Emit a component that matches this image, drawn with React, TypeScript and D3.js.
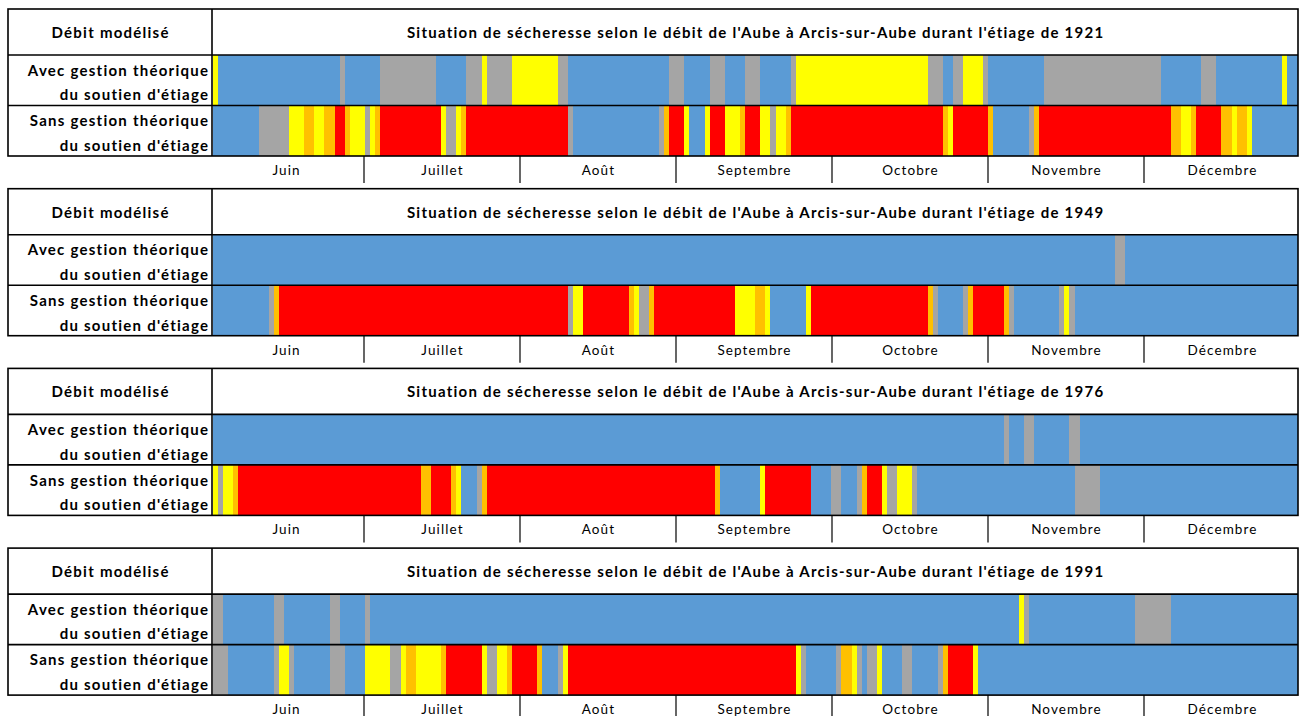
import React from "react";
import * as d3 from "d3";

const WIDTH = 1301;
const HEIGHT = 716;
const N_DAYS = 214; // 1 June -> 31 December

const years = ["1921", "1949", "1976", "1991"];
const months = ["Juin", "Juillet", "Août", "Septembre", "Octobre", "Novembre", "Décembre"];
const levels = ["N", "V", "A", "R", "C"]; // normal, vigilance, alerte, alerte renforcée, crise
const levelColors = ["#5B9BD5", "#A5A5A5", "#FFFF00", "#FFC000", "#FF0000"];
const rowLabels = [
  ["Avec gestion théorique", "du soutien d'étiage"],
  ["Sans gestion théorique", "du soutien d'étiage"],
];
const headerLeft = "Débit modélisé";
const titlePrefix = "Situation de sécheresse selon le débit de l'Aube à Arcis-sur-Aube durant l'étiage de ";

type Run = [string, number]; // [level, number of days]

const avec1921: Run[] = [
  ["A", 1], ["N", 24], ["V", 1], ["N", 7], ["V", 11], ["N", 6], ["V", 3], ["A", 1], ["V", 5], ["A", 9],
  ["V", 2], ["N", 20], ["V", 3], ["N", 5], ["V", 3], ["N", 4], ["V", 3], ["N", 6], ["V", 1], ["A", 26],
  ["V", 3], ["N", 2], ["V", 2], ["A", 4], ["V", 1], ["N", 11], ["V", 23], ["N", 8], ["V", 3], ["N", 13],
  ["A", 1], ["N", 2],
];
const sans1921: Run[] = [
  ["N", 9], ["V", 6], ["A", 3], ["R", 2], ["A", 2], ["R", 2], ["C", 2], ["R", 1], ["A", 3], ["V", 1],
  ["A", 1], ["R", 1], ["C", 12], ["A", 1], ["V", 2], ["A", 1], ["R", 1], ["C", 20], ["V", 1], ["N", 17],
  ["V", 1], ["R", 1], ["C", 3], ["A", 1], ["N", 3], ["A", 1], ["C", 3], ["A", 3], ["R", 1], ["C", 3],
  ["A", 2], ["V", 1], ["A", 2], ["R", 1], ["C", 30], ["R", 1], ["A", 1], ["C", 7], ["R", 1], ["N", 7],
  ["V", 1], ["R", 1], ["C", 26], ["R", 2], ["A", 2], ["R", 1], ["C", 5], ["R", 2], ["A", 1], ["R", 2],
  ["A", 1], ["N", 9],
];
const avec1949: Run[] = [["N", 178], ["V", 2], ["N", 34]];
const sans1949: Run[] = [
  ["N", 11], ["V", 1], ["R", 1], ["C", 57], ["V", 1], ["A", 2], ["C", 9], ["R", 1], ["A", 1], ["V", 2],
  ["R", 1], ["C", 16], ["A", 4], ["R", 2], ["A", 1], ["N", 7], ["A", 1], ["C", 23], ["R", 1], ["V", 1],
  ["N", 5], ["V", 1], ["R", 1], ["C", 6], ["R", 1], ["V", 1], ["N", 9], ["V", 1], ["A", 1], ["V", 1],
  ["N", 44],
];
const avec1976: Run[] = [["N", 156], ["V", 1], ["N", 3], ["V", 2], ["N", 7], ["V", 2], ["N", 43]];
const sans1976: Run[] = [
  ["A", 1], ["V", 1], ["A", 2], ["R", 1], ["C", 36], ["R", 2], ["C", 4], ["R", 1], ["A", 1], ["N", 3],
  ["V", 1], ["R", 1], ["C", 45], ["R", 1], ["N", 8], ["A", 1], ["C", 9], ["N", 4], ["V", 2], ["N", 3],
  ["V", 1], ["R", 1], ["C", 3], ["A", 1], ["V", 2], ["A", 3], ["V", 1], ["N", 31], ["V", 5], ["N", 39],
];
const avec1991: Run[] = [
  ["V", 2], ["N", 10], ["V", 2], ["N", 9], ["V", 2], ["N", 5], ["V", 1], ["N", 128], ["A", 1], ["V", 1],
  ["N", 21], ["V", 7], ["N", 25],
];
const sans1991: Run[] = [
  ["V", 3], ["N", 9], ["V", 1], ["A", 2], ["V", 1], ["N", 7], ["V", 3], ["N", 4], ["A", 5], ["V", 2],
  ["A", 1], ["R", 2], ["A", 5], ["R", 1], ["C", 7], ["A", 1], ["V", 2], ["A", 2], ["R", 1], ["C", 5],
  ["R", 1], ["N", 3], ["V", 1], ["A", 1], ["C", 45], ["A", 1], ["V", 1], ["N", 6], ["V", 1], ["R", 2],
  ["A", 1], ["V", 1], ["N", 1], ["V", 2], ["A", 1], ["N", 4], ["V", 2], ["N", 5], ["V", 1], ["R", 1],
  ["C", 5], ["A", 1], ["N", 63],
];

const seriesByYear: Run[][][] = [
  [avec1921, sans1921],
  [avec1949, sans1949],
  [avec1976, sans1976],
  [avec1991, sans1991],
];

// layout
const TABLE_LEFT = 8;
const TABLE_RIGHT = 1298;
const LABEL_SPLIT = 212;
const PANEL_TOP = 9;
const PANEL_STEP = 179.7;
const HEADER_H = 46;
const ROW_H = 50.5;
const MONTH_H = 27;

const FONT = "Lato, 'Open Sans', 'DejaVu Sans', sans-serif";
const BOLD_SIZE = 15;
const BOLD_SPACING = 1.25;

const x = d3.scaleLinear().domain([0, N_DAYS]).range([213, 1297.5]);
const monthBand = d3.scaleBand<string>().domain(months).range([208, 1300]);
const color = d3.scaleOrdinal<string, string>().domain(levels).range(levelColors);

function toSegments(runs: Run[]) {
  const ends = d3.cumsum(runs.map((r) => r[1]));
  return runs.map((r, i) => ({ level: r[0], start: ends[i] - r[1], end: ends[i] }));
}

function BoldText(props: { x: number; y: number; anchor: string; children: string }) {
  const shift = props.anchor === "end" ? BOLD_SPACING : props.anchor === "middle" ? BOLD_SPACING / 2 : 0;
  return (
    <text
      x={props.x + shift}
      y={props.y}
      textAnchor={props.anchor}
      dominantBaseline="central"
      fontFamily={FONT}
      fontWeight={700}
      fontSize={BOLD_SIZE}
      letterSpacing={BOLD_SPACING}
    >
      {props.children}
    </text>
  );
}

function Panel({ index }: { index: number }) {
  const top = PANEL_TOP + index * PANEL_STEP;
  const rowsTop = top + HEADER_H;
  const bottom = rowsTop + 2 * ROW_H;
  const year = years[index];
  return (
    <g>
      {seriesByYear[index].map((runs, r) => {
        const y0 = rowsTop + r * ROW_H;
        return (
          <g key={r}>
            {toSegments(runs).map((s, k) => (
              <rect
                key={k}
                x={x(s.start)}
                y={y0}
                width={x(s.end) - x(s.start) + 0.4}
                height={ROW_H}
                fill={color(s.level)}
                shapeRendering="crispEdges"
              />
            ))}
            <BoldText x={208} y={y0 + ROW_H * 0.29} anchor="end">
              {rowLabels[r][0]}
            </BoldText>
            <BoldText x={208} y={y0 + ROW_H * 0.78} anchor="end">
              {rowLabels[r][1]}
            </BoldText>
          </g>
        );
      })}
      {/* header */}
      <BoldText x={(TABLE_LEFT + LABEL_SPLIT) / 2} y={top + HEADER_H / 2} anchor="middle">
        {headerLeft}
      </BoldText>
      <BoldText x={755} y={top + HEADER_H / 2} anchor="middle">
        {titlePrefix + year}
      </BoldText>
      {/* grid lines */}
      <g stroke="#000" strokeWidth={1.6} fill="none">
        <rect x={TABLE_LEFT} y={top} width={TABLE_RIGHT - TABLE_LEFT} height={bottom - top} />
        <line x1={TABLE_LEFT} x2={TABLE_RIGHT} y1={rowsTop} y2={rowsTop} />
        <line x1={TABLE_LEFT} x2={TABLE_RIGHT} y1={rowsTop + ROW_H} y2={rowsTop + ROW_H} />
        <line x1={LABEL_SPLIT} x2={LABEL_SPLIT} y1={top} y2={bottom} />
      </g>
      {/* month row */}
      <g>
        {months.slice(1).map((m) => (
          <line
            key={m}
            x1={monthBand(m)!}
            x2={monthBand(m)!}
            y1={bottom}
            y2={bottom + MONTH_H}
            stroke="#000"
            strokeWidth={1.2}
          />
        ))}
        {months.map((m) => (
          <text
            key={m}
            x={monthBand(m)! + monthBand.bandwidth() / 2 + 0.5}
            y={bottom + 14}
            textAnchor="middle"
            dominantBaseline="central"
            fontFamily={FONT}
            fontSize={13.5}
            letterSpacing={1.1}
          >
            {m}
          </text>
        ))}
      </g>
    </g>
  );
}

export default function App() {
  return (
    <svg
      width={WIDTH}
      height={HEIGHT}
      style={{ position: "absolute", left: 0, top: 0, background: "#fff" }}
    >
      {years.map((y, i) => (
        <Panel key={y} index={i} />
      ))}
    </svg>
  );
}
